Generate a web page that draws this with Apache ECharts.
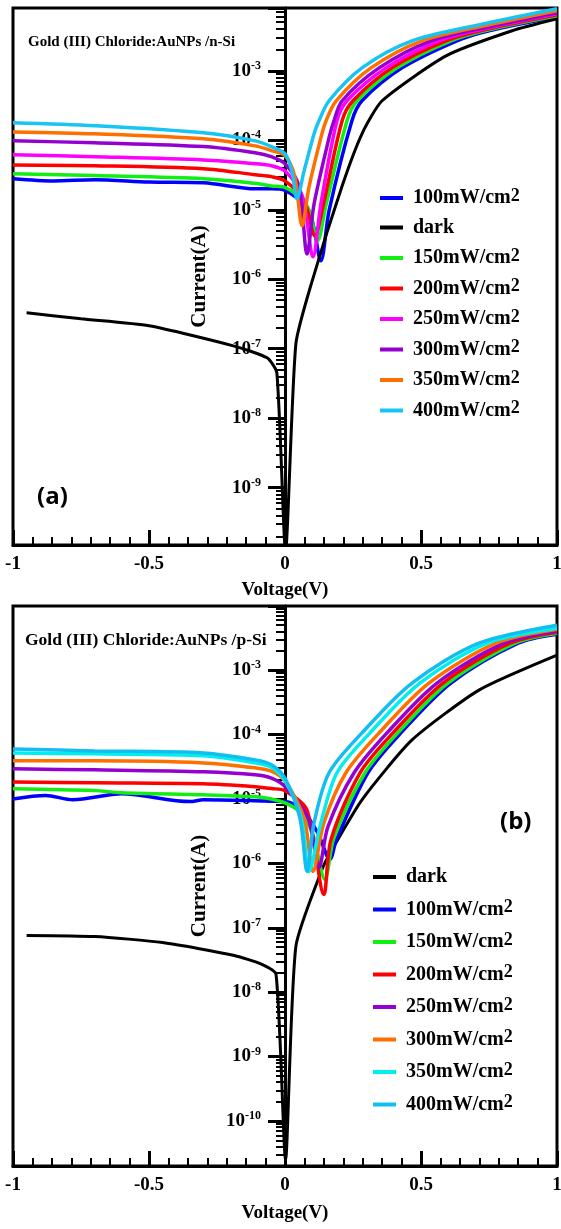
<!DOCTYPE html>
<html>
<head>
<meta charset="utf-8">
<script src="https://cdn.jsdelivr.net/npm/echarts@6.0.0/dist/echarts.min.js"></script>
<style>
html,body{margin:0;padding:0;background:#fff}
#myChart{width:561px;height:1229px}
</style>
</head>
<body>
<div id="myChart"></div>
<script>
// [voltage (V), current (A)]
// (a) n-Si
var aDark = [[-0.95,3.3e-7],[-0.75,2.7e-7],[-0.5,2.14e-7],[-0.19,1.1e-7],[-0.066,7.4e-8],[-0.03,4.5e-8],[0.002,1.2e-10],[0.04,1.18e-7],[0.1,9.5e-7],[0.21,2.2e-5],[0.283,1.24e-4],[0.357,3.7e-4],[0.592,1.64e-3],[0.835,3.77e-3],[1,5.6e-3]];
var a100 = [[-1,2.8e-5],[-0.85,2.6e-5],[-0.7,2.7e-5],[-0.5,2.5e-5],[-0.3,2.44e-5],[-0.11,2.0e-5],[-0.05,2.0e-5],[0,1.9e-5],[0.088,9.7e-6],[0.132,1.85e-6],[0.162,9.7e-6],[0.246,1.91e-4],[0.283,3.7e-4],[0.43,1.1e-3],[0.632,2.7e-3],[0.75,3.77e-3],[1,5.98e-3]];
var a150 = [[-1,3.3e-5],[-0.7,3.1e-5],[-0.3,2.8e-5],[-0.11,2.4e-5],[-0.05,2.2e-5],[0,2.1e-5],[0.081,1.14e-5],[0.12,3.6e-6],[0.15,1.14e-5],[0.228,1.91e-4],[0.265,3.7e-4],[0.412,1.1e-3],[0.61,2.7e-3],[0.75,3.89e-3],[1,6.18e-3]];
var a200 = [[-1,4.4e-5],[-0.7,4.3e-5],[-0.3,3.9e-5],[-0.11,3.2e-5],[-0.05,3.0e-5],[0,2.6e-5],[0.07,1.35e-5],[0.11,4.2e-6],[0.14,1.14e-5],[0.21,1.91e-4],[0.25,3.7e-4],[0.393,1.1e-3],[0.592,2.7e-3],[0.75,4.02e-3],[1,6.4e-3]];
var a250 = [[-1,6.2e-5],[-0.7,5.8e-5],[-0.3,5.2e-5],[-0.11,4.6e-5],[-0.05,4.3e-5],[0,3.6e-5],[0.063,1.6e-5],[0.103,2.1e-6],[0.132,1.22e-5],[0.191,1.91e-4],[0.228,3.7e-4],[0.371,1.1e-3],[0.566,2.7e-3],[0.75,4.16e-3],[1,6.61e-3]];
var a300 = [[-1,9.8e-5],[-0.7,9.2e-5],[-0.3,8.1e-5],[-0.11,6.6e-5],[-0.05,5.8e-5],[0,4.6e-5],[0.051,2.2e-5],[0.081,2.3e-6],[0.107,1.22e-5],[0.162,1.09e-4],[0.18,1.91e-4],[0.21,3.7e-4],[0.346,1.1e-3],[0.537,2.7e-3],[0.75,4.3e-3],[1,6.84e-3]];
var a350 = [[-1,1.32e-4],[-0.7,1.24e-4],[-0.3,1.05e-4],[-0.11,8.3e-5],[-0.05,7.1e-5],[0,6.0e-5],[0.035,3.1e-5],[0.063,5.9e-6],[0.088,2.1e-5],[0.132,1.09e-4],[0.151,1.91e-4],[0.188,3.7e-4],[0.316,1.1e-3],[0.504,2.7e-3],[0.75,4.59e-3],[1,7.29e-3]];
var a400 = [[-1,1.79e-4],[-0.7,1.62e-4],[-0.3,1.28e-4],[-0.11,9.8e-5],[-0.05,8.1e-5],[0,6.4e-5],[0.025,3.6e-5],[0.044,1.44e-5],[0.07,3.6e-5],[0.107,1.24e-4],[0.125,1.91e-4],[0.162,3.7e-4],[0.283,1.1e-3],[0.467,2.7e-3],[0.75,4.91e-3],[1,7.8e-3]];
// (b) p-Si
var bDark = [[-0.95,7.6e-8],[-0.7,7.3e-8],[-0.45,5.9e-8],[-0.19,3.74e-8],[-0.085,2.71e-8],[-0.033,1.9e-8],[0.002,2.5e-11],[0.04,5.15e-8],[0.136,8.0e-7],[0.173,1.64e-6],[0.283,9.7e-6],[0.467,8.24e-5],[0.713,4.9e-4],[1,1.71e-3]];
var b100 = [[-1,1.0e-5],[-0.88,1.13e-5],[-0.78,9.7e-6],[-0.6,1.2e-5],[-0.35,9.1e-6],[-0.3,9.7e-6],[-0.11,9.4e-6],[-0.05,9.2e-6],[0,9.1e-6],[0.06,7e-6],[0.12,3e-6],[0.165,1.15e-6],[0.19,2.4e-6],[0.305,2.55e-5],[0.426,1.06e-4],[0.61,6.3e-4],[0.857,2.62e-3],[1,3.61e-3]];
var b150 = [[-1,1.44e-5],[-0.7,1.35e-5],[-0.6,1.25e-5],[-0.3,1.16e-5],[-0.11,1.08e-5],[-0.05,1.0e-5],[0,8.7e-6],[0.05,6.5e-6],[0.1,3e-6],[0.147,5.6e-7],[0.18,2.5e-6],[0.294,2.55e-5],[0.415,1.06e-4],[0.599,6.3e-4],[0.846,2.62e-3],[1,3.74e-3]];
var b200 = [[-1,1.84e-5],[-0.7,1.78e-5],[-0.3,1.72e-5],[-0.11,1.55e-5],[-0.05,1.45e-5],[0,1.34e-5],[0.08,6.8e-6],[0.143,3.29e-7],[0.169,2.33e-6],[0.276,2.55e-5],[0.397,1.06e-4],[0.581,6.3e-4],[0.827,2.62e-3],[1,3.88e-3]];
var b250 = [[-1,2.93e-5],[-0.7,2.83e-5],[-0.3,2.64e-5],[-0.11,2.37e-5],[-0.05,2.1e-5],[0,1.55e-5],[0.085,5e-6],[0.125,8.6e-7],[0.158,3.72e-6],[0.254,2.55e-5],[0.375,1.06e-4],[0.559,6.3e-4],[0.805,2.62e-3],[1,4.02e-3]];
var b300 = [[-1,3.9e-5],[-0.7,3.9e-5],[-0.3,3.63e-5],[-0.11,3.04e-5],[-0.05,2.7e-5],[0,1.9e-5],[0.07,5e-6],[0.103,7.5e-7],[0.143,4.28e-6],[0.224,2.55e-5],[0.346,1.06e-4],[0.529,6.3e-4],[0.776,2.62e-3],[1,4.31e-3]];
var b350 = [[-1,5.19e-5],[-0.7,5.01e-5],[-0.3,4.67e-5],[-0.11,3.63e-5],[-0.05,3.1e-5],[0,1.9e-5],[0.06,5e-6],[0.088,7.5e-7],[0.132,4.28e-6],[0.191,2.55e-5],[0.3125,1.06e-4],[0.496,6.3e-4],[0.743,2.62e-3],[1,4.47e-3]];
var b400 = [[-1,5.98e-5],[-0.7,5.57e-5],[-0.3,5.19e-5],[-0.11,4.04e-5],[-0.05,3.4e-5],[0,2.1e-5],[0.055,5e-6],[0.081,7.5e-7],[0.107,4.28e-6],[0.162,2.55e-5],[0.283,1.06e-4],[0.467,6.3e-4],[0.713,2.62e-3],[1,4.98e-3]];

var xTicks = [-1, -0.5, 0, 0.5, 1];
var namesA = ['100mW/cm2','dark','150mW/cm2','200mW/cm2','250mW/cm2','300mW/cm2','350mW/cm2','400mW/cm2'];
var namesB = ['dark','100mW/cm2','150mW/cm2','200mW/cm2','250mW/cm2','300mW/cm2','350mW/cm2','400mW/cm2'];
var dataA = [a100, aDark, a150, a200, a250, a300, a350, a400];
var dataB = [bDark, b100, b150, b200, b250, b300, b350, b400];
var colorsA = ['#0000FF','#000000','#11EE11','#FF0000','#FF00FF','#9400D0','#FF6F00','#18C4F2'];
var colorsB = ['#000000','#0000FF','#11EE11','#FF0000','#9400D0','#FF6F00','#00EEEE','#12BEF0'];

var serif = 'Liberation Serif';
var bold = {fontFamily: serif, fontWeight: 'bold', color: '#000'};
// grid geometry (px); the y axis is shifted onto V = 0
var gLeft = 13, gRight = 4, gWidth = 561 - gLeft - gRight;

function mkSeries(names, datas, colors, idx) {
	return names.map(function (n, i) {
		return {
			name: n, type: 'line', xAxisIndex: idx, yAxisIndex: idx,
			data: datas[i], showSymbol: false, symbol: 'none', silent: true,
			smooth: n == 'dark' ? 0.2 : 0.3,
			lineStyle: {color: colors[i], width: n == 'dark' ? 3 : 3.5},
			itemStyle: {color: colors[i]}
		};
	});
}

function mkLegend(names, colors, left, top, gap) {
	return {
		orient: 'vertical', left: left, top: top, itemGap: gap, padding: 0,
		icon: 'rect', itemWidth: 23, itemHeight: 4, selectedMode: false,
		data: names.map(function (n, i) { return {name: n, itemStyle: {color: colors[i]}}; }),
		formatter: function (n) {
			if (n.slice(-3) == 'cm2') return ' {n|' + n.slice(0, -1) + '}{s|2}';
			return ' {n|' + n + '}';
		},
		textStyle: {fontFamily: serif, fontWeight: 'bold', fontSize: 20, color: '#000',
			rich: {
				n: {fontFamily: serif, fontWeight: 'bold', fontSize: 20, lineHeight: 22, color: '#000'},
				s: {fontFamily: serif, fontWeight: 'bold', fontSize: 18, lineHeight: 6, verticalAlign: 'top', color: '#000'}
			}}
	};
}

function mkX(idx, gap) {
	return {
		type: 'value', gridIndex: idx, min: xTicks[0], max: xTicks[xTicks.length - 1], interval: 0.5,
		axisLine: {onZero: false, lineStyle: {color: '#000', width: 3}},
		axisTick: {inside: true, length: 15, lineStyle: {color: '#000', width: 3}},
		minorTick: {show: true, splitNumber: 7, length: 8, lineStyle: {color: '#000', width: 2}},
		splitLine: {show: false},
		axisLabel: Object.assign({fontSize: 19, margin: 10}, bold),
		name: 'Voltage(V)', nameLocation: 'middle', nameGap: gap,
		nameTextStyle: Object.assign({fontSize: 19}, bold)
	};
}

function mkY(idx, min, max) {
	return {
		type: 'log', logBase: 10, gridIndex: idx, min: min, max: max, splitNumber: 8,
		position: 'left', offset: -gWidth / 2,
		axisLine: {onZero: false, lineStyle: {color: '#000', width: 3}},
		axisTick: {length: 17, lineStyle: {color: '#000', width: 3}},
		minorTick: {show: true, splitNumber: 9, length: 9, lineStyle: {color: '#000', width: 2}},
		splitLine: {show: false},
		axisLabel: {
			margin: 24,
			formatter: function (v) {
				var l = Math.log10(v), e = Math.round(l);
				if (Math.abs(l - e) > 1e-6) return '';
				return '{b|10}{s|' + e + '}';
			},
			rich: {
				b: {fontFamily: serif, fontWeight: 'bold', fontSize: 19, lineHeight: 22, color: '#000'},
				s: {fontFamily: serif, fontWeight: 'bold', fontSize: 12, lineHeight: 8, verticalAlign: 'top', color: '#000'}
			}
		},
		name: 'Current(A)', nameLocation: 'middle', nameGap: 75,
		nameTextStyle: Object.assign({fontSize: 21}, bold)
	};
}

var option = {
	animation: false,
	backgroundColor: '#fff',
	grid: [
		{left: gLeft, right: gRight, top: 8, height: 537, outerBoundsMode: 'none', containLabel: false, show: true, borderColor: '#000', borderWidth: 3},
		{left: gLeft, right: gRight, top: 606, height: 560, outerBoundsMode: 'none', containLabel: false, show: true, borderColor: '#000', borderWidth: 3}
	],
	xAxis: [mkX(0, 36), mkX(1, 38)],
	yAxis: [mkY(0, 1.5e-10, 8e-3), mkY(1, 2e-11, 9.9e-3)],
	legend: [mkLegend(namesA, colorsA, 380, 187, 9.5), mkLegend(namesB, colorsB, 373, 867, 11.5)],
	graphic: [
		{type: 'text', x: 28, y: 42, style: {text: 'Gold (III) Chloride:AuNPs /n-Si', font: 'bold 15px "Liberation Serif"', fill: '#000', verticalAlign: 'middle'}},
		{type: 'text', x: 25, y: 640, style: {text: 'Gold (III) Chloride:AuNPs /p-Si', font: 'bold 17.5px "Liberation Serif"', fill: '#000', verticalAlign: 'middle'}},
		{type: 'text', x: 37, y: 497, style: {text: '(a)', font: 'bold 24px "Open Sans"', fill: '#000', verticalAlign: 'middle'}},
		{type: 'text', x: 500, y: 822, style: {text: '(b)', font: 'bold 24px "Open Sans"', fill: '#000', verticalAlign: 'middle'}}
	],
	series: mkSeries(namesA, dataA, colorsA, 0).concat(mkSeries(namesB, dataB, colorsB, 1))
};

let myChart = echarts.init(document.getElementById('myChart'));
myChart.setOption(option);
</script>
</body>
</html>
